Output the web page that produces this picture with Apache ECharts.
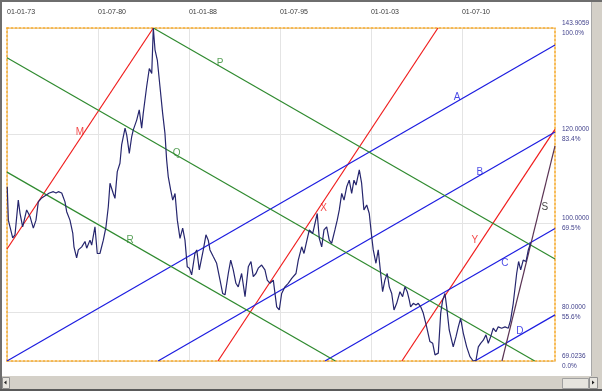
<!DOCTYPE html>
<html><head><meta charset="utf-8">
<script src="https://cdn.jsdelivr.net/npm/echarts@6/dist/echarts.min.js"></script>
<style>html,body{margin:0;padding:0;background:#fff}#c{width:602px;height:391px}</style>
</head><body><div id="c"></div>
<script>
// ---- data ----
const years = [1973.02,1973.11,1973.25,1973.47,1973.66,1973.93,1974.07,1974.29,1974.62,1974.90,
1975.17,1975.39,1975.58,1975.86,1976.27,1976.49,1976.82,1977.04,1977.23,1977.51,
1977.78,1977.92,1978.19,1978.42,1978.52,1978.74,1978.88,1979.16,1979.43,1979.57,
1979.84,1979.98,1980.25,1980.44,1980.66,1980.94,1981.16,1981.35,1981.49,1981.76,
1981.90,1982.09,1982.31,1982.45,1982.73,1982.87,1983.08,1983.28,1983.41,1983.69,
1983.90,1984.10,1984.23,1984.51,1984.73,1984.93,1985.06,1985.20,1985.39,1985.61,
1985.83,1986.02,1986.16,1986.29,1986.49,1986.66,1986.85,1987.04,1987.26,1987.48,
1987.67,1987.86,1988.03,1988.22,1988.49,1988.64,1988.85,1989.18,1989.40,1989.59,
1989.73,1990.00,1990.28,1990.56,1990.78,1990.97,1991.24,1991.44,1991.65,1991.87,
1992.06,1992.34,1992.62,1992.89,1993.11,1993.30,1993.52,1993.71,1993.99,1994.26,
1994.45,1994.68,1994.95,1995.23,1995.44,1995.64,1995.91,1996.18,1996.47,1996.82,
1997.01,1997.29,1997.48,1997.70,1997.92,1998.20,1998.39,1998.57,1998.74,1998.94,
1999.13,1999.35,1999.56,1999.76,2000.03,2000.22,2000.39,2000.59,2000.78,2001.00,
2001.21,2001.41,2001.60,2001.77,2002.04,2002.23,2002.42,2002.65,2002.86,2003.06,
2003.19,2003.41,2003.60,2003.80,2003.96,2004.15,2004.34,2004.51,2004.71,2004.90,
2005.12,2005.39,2005.61,2005.80,2005.99,2006.16,2006.27,2006.49,2006.71,2006.90,
2007.10,2007.31,2007.59,2007.86,2008.09,2008.28,2008.55,2008.75,2008.91,2009.10,
2009.24,2009.45,2009.65,2009.78,2010.01,2010.20,2010.39,2010.61,2010.89,2011.16,
2011.43,2011.66,2011.85,2012.04,2012.26,2012.48,2012.67,2012.87,2013.08,2013.30,
2013.49,2013.77,2014.05,2014.32,2014.51,2014.73,2015.01,2015.17,2015.34,2015.55,
2015.78,2015.97,2016.16];
const values = [108.2,100.7,100.3,96.7,97.4,105.2,102.3,99.2,103.0,101.5,
98.9,100.7,104.8,105.7,106.4,106.8,107.1,106.8,107.1,106.8,
104.8,102.6,100.7,97.8,94.7,92.2,94.0,94.7,95.9,94.4,
96.2,95.1,99.2,93.2,93.2,96.2,99.2,103.7,109.0,106.7,
105.6,111.6,113.5,117.6,121.4,119.8,115.7,119.5,121.0,123.2,
125.5,121.4,124.7,130.7,134.8,133.7,143.9059,139.0,136.7,130.7,
124.7,120.2,114.2,110.5,107.5,105.2,106.7,100.7,96.6,98.9,
96.2,90.2,89.9,88.4,93.2,94.0,89.5,94.0,97.4,96.2,
94.0,92.5,91.0,87.2,84.2,83.9,88.7,91.7,89.5,86.5,
85.7,88.7,83.5,90.2,91.4,88.0,88.7,89.9,90.6,89.5,
87.2,86.5,87.2,81.2,80.5,84.2,85.7,86.5,87.6,88.7,
91.7,94.7,93.2,95.9,98.5,97.7,100.0,102.2,96.6,94.7,
98.5,99.2,96.2,95.5,98.5,100.7,103.0,106.7,105.2,108.2,
109.7,106.7,109.7,108.6,112.0,109.0,103.0,104.1,102.2,97.0,
94.0,91.0,94.0,88.7,84.6,87.2,88.7,85.7,84.2,80.5,
82.0,84.6,83.5,85.7,84.6,82.7,81.2,82.0,81.6,82.0,
81.2,79.8,76.7,73.4,73.0,70.4,70.8,79.8,82.7,84.2,
81.2,76.0,73.7,72.2,74.5,76.7,78.6,75.3,72.2,70.0,
69.0236,69.2,72.2,73.0,73.7,74.9,73.0,74.5,76.4,75.6,
76.7,76.4,76.7,76.4,78.2,82.0,88.7,91.4,89.5,91.7,
91.4,94.0,95.5];

const xMin = 1973, xMax = 2018.17;
const yMin = 69.0236, yMax = 143.9059;
const xTickValues = [1973, 1980.5, 1988, 1995.5, 2003, 2010.5];
const xTickLabels = ['01-01-73','01-07-80','01-01-88','01-07-95','01-01-03','01-07-10'];
const yTickValues = [69.0236, 80, 100, 120, 143.9059];
const yTickLabels = ['69.0236\n0.0%','80.0000\n55.6%','100.0000\n69.5%','120.0000\n83.4%','143.9059\n100.0%'];

// trend lines (endpoints in data units)
const lineM = [[1973.0, 94.2], [1985.06, 143.9059]];
const lineX = [[1990.39, 69.0236], [2008.52, 143.9059]];
const lineY = [[2005.55, 69.0236], [2018.17, 121.1]];
const lineA = [[1973.0, 69.0236], [2018.17, 140.1]];
const lineB = [[1985.45, 69.0236], [2018.17, 120.5]];
const lineC = [[1999.21, 69.0236], [2018.17, 98.8]];
const lineD = [[2011.57, 69.0236], [2018.17, 79.4]];
const lineP = [[1985.06, 143.9059], [2018.17, 91.95]];
const lineQ = [[1973.0, 137.2], [2016.5, 69.0236]];
const lineR = [[1973.0, 111.5], [2000.07, 69.0236]];
const lineS = [[2013.8, 69.0236], [2018.17, 117.4]];

// line letter labels
const labelNames = ['M','X','Y','A','B','C','D','P','Q','R','S'];
const labelX = [1979.02, 1999.1, 2011.57, 2010.09, 2011.98, 2014.04, 2015.28, 1990.56, 1986.99, 1983.14, 2017.34];
const labelY = [120.5, 103.4, 96.2, 128.4, 111.5, 91.1, 75.8, 136.0, 115.7, 96.2, 103.7];

// ---- styles ----
const RED = '#f01c1c', BLUE = '#1c1ce0', GREEN = '#2f8a2f', NAVY = '#26266e', PLUM = '#5a3454';
const trendDefs = [
  [lineM, RED], [lineX, RED], [lineY, RED],
  [lineA, BLUE], [lineB, BLUE], [lineC, BLUE], [lineD, BLUE],
  [lineP, GREEN], [lineQ, GREEN], [lineR, GREEN],
  [lineS, PLUM]
];
const labelColors = [RED, RED, RED, BLUE, BLUE, BLUE, BLUE, GREEN, GREEN, GREEN, '#111'];
const FONT = '"Liberation Sans", Arial, sans-serif';
const frameLine = { show: true, onZero: false, lineStyle: { color: '#f5a623', width: 1.5, type: [2, 2] } };

const chart = echarts.init(document.getElementById('c'), null, { renderer: 'canvas' });

const series = [];
trendDefs.forEach(([d, c]) => {
  series.push({ type: 'line', data: d, symbol: 'none', silent: true, clip: true,
    lineStyle: { color: c, width: 1.2 }, z: 3 });
});
series.push({ type: 'line', data: years.map((y, i) => [y, values[i]]), symbol: 'none',
  lineStyle: { color: NAVY, width: 1.2 }, z: 4, clip: true });
series.push({ type: 'scatter', symbolSize: 0, z: 5,
  data: labelNames.map((n, i) => ({ name: n, value: [labelX[i], labelY[i]],
    label: { color: labelColors[i] } })),
  label: { show: true, position: 'inside', formatter: p => p.name, fontSize: 10,
    fontFamily: FONT } });

chart.setOption({
  animation: false,
  backgroundColor: '#ffffff',
  grid: { left: 7, right: 47, top: 28, bottom: 30, containLabel: false },
  xAxis: [{
    type: 'value', position: 'top', min: xMin, max: xMax,
    axisLine: frameLine,
    axisTick: { show: false, customValues: xTickValues },
    axisLabel: { customValues: xTickValues, align: 'left', margin: 12, color: '#3a3a3a',
      fontSize: 7, fontFamily: FONT,
      formatter: v => { const i = xTickValues.findIndex(t => Math.abs(t - v) < 0.01); return i >= 0 ? xTickLabels[i] : ''; } },
    splitLine: { show: true, lineStyle: { color: '#e4e4e4', width: 1 } }
  }, {
    type: 'value', position: 'bottom', min: xMin, max: xMax,
    axisLine: frameLine, axisTick: { show: false }, axisLabel: { show: false }, splitLine: { show: false }
  }],
  yAxis: [{
    type: 'value', position: 'right', min: yMin, max: yMax,
    axisLine: frameLine,
    axisTick: { show: false, customValues: yTickValues },
    axisLabel: { customValues: yTickValues, margin: 7, color: '#3f3f8a', fontSize: 6.5, lineHeight: 10,
      fontFamily: FONT,
      formatter: v => { const i = yTickValues.findIndex(t => Math.abs(t - v) < 0.01); return i >= 0 ? yTickLabels[i] : ''; } },
    splitLine: { show: true, lineStyle: { color: '#e4e4e4', width: 1 } }
  }, {
    type: 'value', position: 'left', min: yMin, max: yMax,
    axisLine: frameLine, axisTick: { show: false }, axisLabel: { show: false }, splitLine: { show: false }
  }],
  series: series,
  graphic: [
    { type: 'rect', left: 0, top: 376, shape: { width: 602, height: 15 }, style: { fill: '#d4d0c8' }, z: 100 },
    { type: 'rect', left: 592, top: 0, shape: { width: 10, height: 391 }, style: { fill: '#d4d0c8' }, z: 100 },
    { type: 'line', shape: { x1: 591.5, y1: 0, x2: 591.5, y2: 376 }, style: { stroke: '#a8a8a8', lineWidth: 1 }, z: 101 },
    { type: 'rect', left: 0, top: 0, shape: { width: 602, height: 2 }, style: { fill: '#6e6e6e' }, z: 101 },
    { type: 'rect', left: 0, top: 0, shape: { width: 2, height: 391 }, style: { fill: '#6e6e6e' }, z: 101 },
    { type: 'rect', left: 2, top: 377, shape: { width: 7, height: 11 }, style: { fill: '#e8e6e0', stroke: '#909090', lineWidth: 1 }, z: 102 },
    { type: 'polygon', shape: { points: [[4, 382.5], [6.5, 380.5], [6.5, 384.5]] }, style: { fill: '#222' }, z: 103 },
    { type: 'rect', left: 562, top: 378, shape: { width: 26, height: 10 }, style: { fill: '#e6e4de', stroke: '#a0a0a0', lineWidth: 1 }, z: 102 },
    { type: 'rect', left: 589, top: 377, shape: { width: 8, height: 11 }, style: { fill: '#e8e6e0', stroke: '#909090', lineWidth: 1 }, z: 102 },
    { type: 'polygon', shape: { points: [[594.5, 382.5], [592, 380.5], [592, 384.5]] }, style: { fill: '#222' }, z: 103 },
    { type: 'rect', left: 0, top: 389, shape: { width: 602, height: 2 }, style: { fill: '#5a5a5a' }, z: 101 }
  ]
});
</script></body></html>
